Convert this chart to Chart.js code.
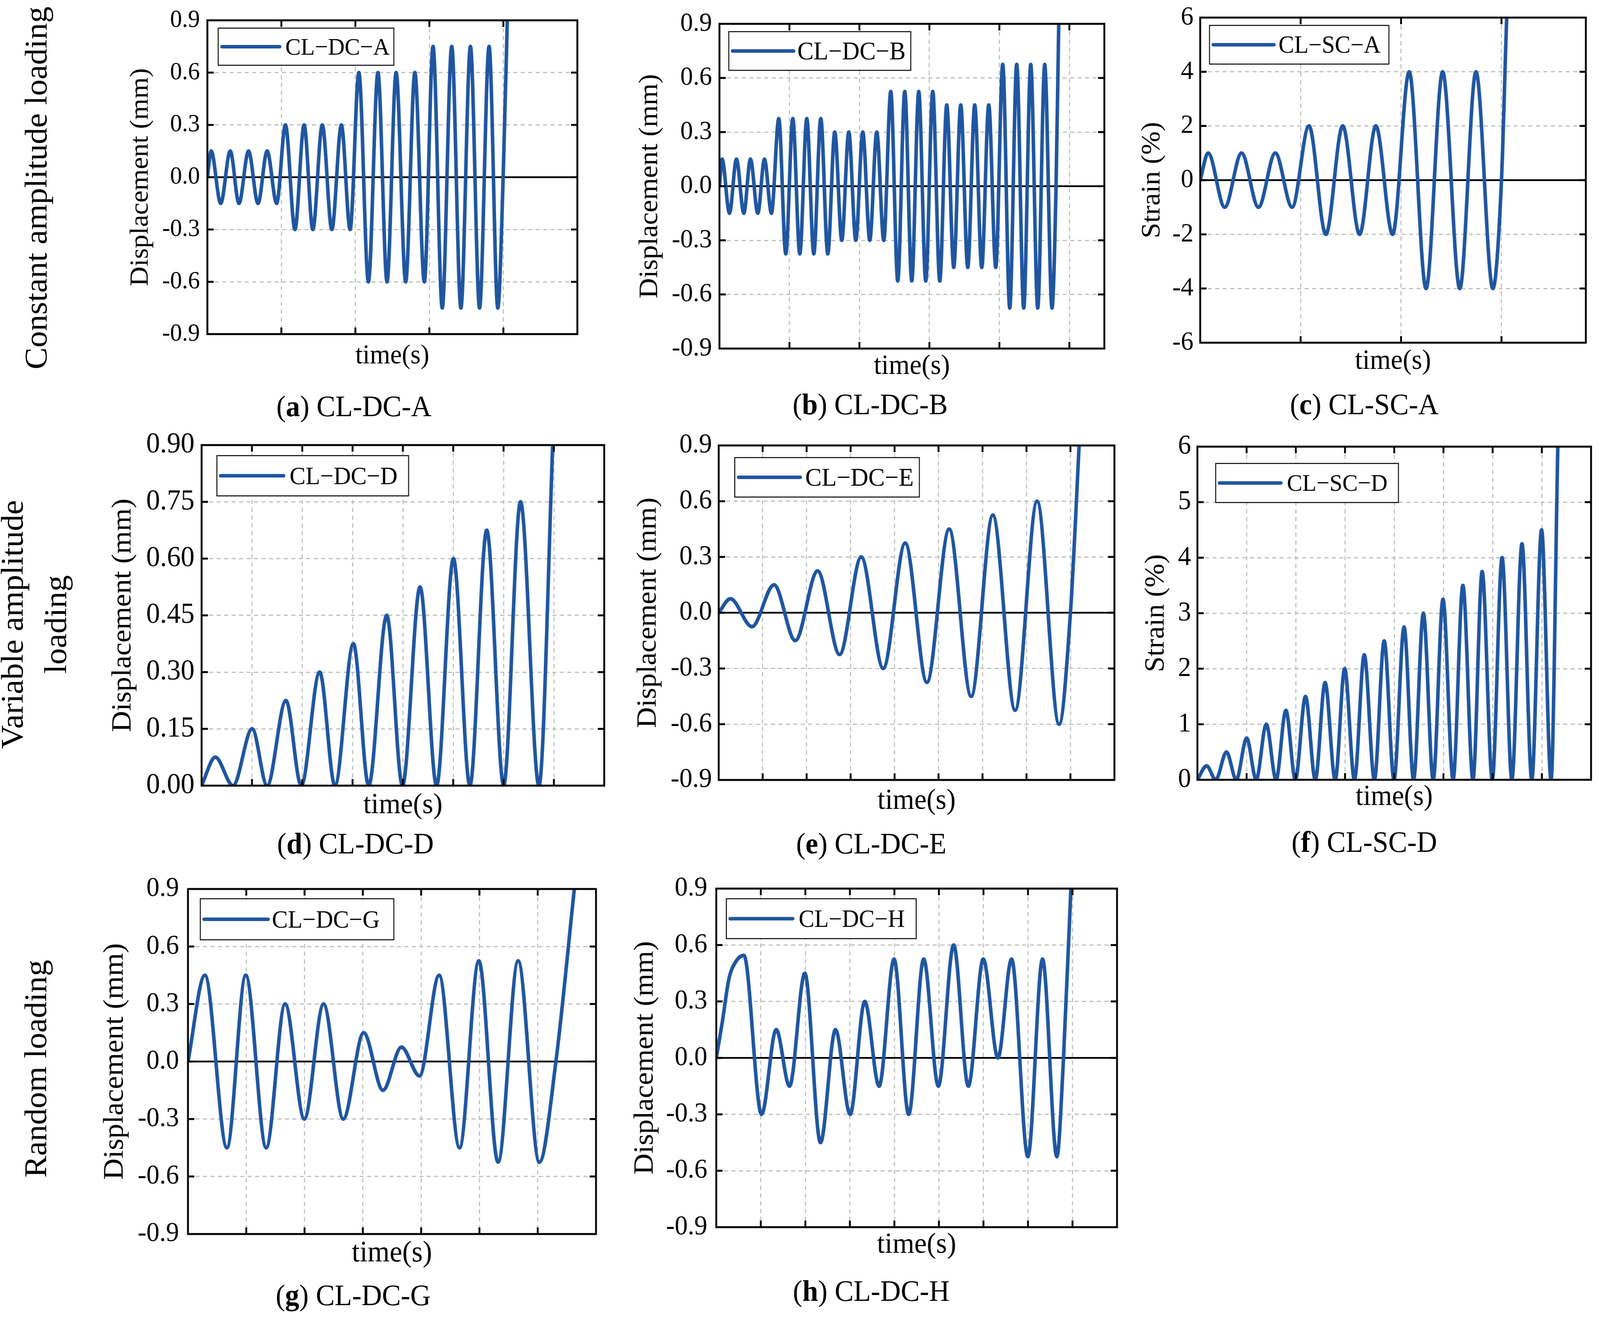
<!DOCTYPE html>
<html><head><meta charset="utf-8">
<script src="https://cdn.jsdelivr.net/npm/chart.js@4.4.1/dist/chart.umd.min.js"></script>
<style>
html,body{margin:0;padding:0;background:#fff;overflow:hidden;width:100%;height:100%;}
#wrap{position:absolute;left:0;top:0;width:4290px;height:3378px;transform-origin:0 0;font-family:'Liberation Serif','Times New Roman',serif;color:#000;background:#fff;overflow:hidden;}
canvas{position:absolute;}
.cap{position:absolute;transform:translate(-50%,-50%);font-size:76px;white-space:nowrap;line-height:1;}
.row{position:absolute;transform:translate(-50%,-50%) rotate(-90deg);font-size:84px;white-space:nowrap;text-align:center;line-height:1.15;}
</style></head><body>
<div id="wrap">
<div class="row" style="left:97px;top:481px;">Constant amplitude loading</div>
<div class="row" style="left:91px;top:1598px;line-height:116px;">Variable amplitude<br>loading</div>
<div class="row" style="left:96px;top:2735px;">Random loading</div>
<div class="cap" style="left:949px;top:1039px;">(<b>a</b>) CL-DC-A</div>
<div class="cap" style="left:2333px;top:1034px;">(<b>b</b>) CL-DC-B</div>
<div class="cap" style="left:3658px;top:1034px;">(<b>c</b>) CL-SC-A</div>
<div class="cap" style="left:953px;top:2158px;">(<b>d</b>) CL-DC-D</div>
<div class="cap" style="left:2336px;top:2158px;">(<b>e</b>) CL-DC-E</div>
<div class="cap" style="left:3658px;top:2154px;">(<b>f</b>) CL-SC-D</div>
<div class="cap" style="left:947px;top:3314px;">(<b>g</b>) CL-DC-G</div>
<div class="cap" style="left:2336px;top:3303px;">(<b>h</b>) CL-DC-H</div>
</div>
<script>
// ---------- data ----------
const seriesNames = ['CL\u2212DC\u2212A','CL\u2212DC\u2212B','CL\u2212SC\u2212A','CL\u2212DC\u2212D','CL\u2212DC\u2212E','CL\u2212SC\u2212D','CL\u2212DC\u2212G','CL\u2212DC\u2212H'];
const yTitles = ['Displacement (mm)','Displacement (mm)','Strain (%)','Displacement (mm)','Displacement (mm)','Strain (%)','Displacement (mm)','Displacement (mm)'];
const xTitle = 'time(s)';
const xSpan = [5, 5.5, 3.84, 8, 9, 8, 7, 9];

const yTicksDisp = [-0.9, -0.6, -0.3, 0, 0.3, 0.6, 0.9];
const yTicksStrainC = [-6, -4, -2, 0, 2, 4, 6];
const yTicksD = [0, 0.15, 0.30, 0.45, 0.60, 0.75, 0.90];
const yTicksF = [0, 1, 2, 3, 4, 5, 6];

const timeA = [0,0.051,0.180,0.309,0.427,0.556,0.684,0.808,0.936,1.055,1.183,1.307,1.425,1.553,1.682,1.811,1.929,2.047,2.176,2.305,2.428,2.551,2.680,2.804,2.932,3.050,3.174,3.302,3.426,3.555,3.678,3.807,3.925,3.997,4.053,4.115];
const dispA = [0,0.15,-0.15,0.15,-0.15,0.15,-0.15,0.15,-0.15,0.3,-0.3,0.3,-0.3,0.3,-0.3,0.3,-0.3,0.6,-0.6,0.6,-0.6,0.6,-0.6,0.6,-0.6,0.75,-0.75,0.75,-0.75,0.75,-0.75,0.75,-0.75,0,0.9,1.9];

const timeB = [0,0.038,0.143,0.243,0.348,0.443,0.548,0.643,0.743,0.848,0.948,1.048,1.148,1.248,1.348,1.448,1.548,1.648,1.748,1.848,1.948,2.048,2.148,2.248,2.348,2.448,2.548,2.648,2.748,2.848,2.948,3.048,3.148,3.248,3.348,3.448,3.548,3.648,3.748,3.848,3.948,4.048,4.148,4.248,4.348,4.448,4.548,4.648,4.752,4.810,4.848,4.886];
const dispB = [0,0.15,-0.15,0.15,-0.15,0.15,-0.15,0.15,-0.15,0.375,-0.375,0.375,-0.375,0.375,-0.375,0.375,-0.375,0.3,-0.3,0.3,-0.3,0.3,-0.3,0.3,-0.3,0.525,-0.525,0.525,-0.525,0.525,-0.525,0.525,-0.525,0.45,-0.45,0.45,-0.45,0.45,-0.45,0.45,-0.45,0.675,-0.675,0.675,-0.675,0.675,-0.675,0.675,-0.675,0,0.9,1.8];

const timeC = [0,0.079,0.244,0.412,0.580,0.748,0.915,1.083,1.251,1.419,1.587,1.749,1.916,2.081,2.249,2.414,2.585,2.746,2.914,3.000,3.052,3.085];
const strainC = [0,1,-1,1,-1,1,-1,2,-2,2,-2,2,-2,4,-4,4,-4,4,-4,0,6,9];

const timeD = [0,0.273,0.624,1.005,1.302,1.676,1.980,2.346,2.650,3.016,3.320,3.679,3.991,4.341,4.669,5.004,5.331,5.666,6.002,6.337,6.703,6.976,7.054];
const dispD = [0,0.075,0,0.15,0,0.225,0,0.30,0,0.375,0,0.45,0,0.525,0,0.60,0,0.675,0,0.75,0,0.9,1.2];

const timeE = [0,0.265,0.758,1.258,1.742,2.25,2.75,3.242,3.742,4.242,4.735,5.242,5.742,6.235,6.742,7.242,7.742,8.0,8.197,8.258];
const dispE = [0,0.075,-0.075,0.15,-0.15,0.225,-0.225,0.3,-0.3,0.375,-0.375,0.45,-0.45,0.525,-0.525,0.6,-0.6,0,0.9,1.2];

const timeF = [0,0.187,0.373,0.591,0.790,1.002,1.195,1.400,1.599,1.798,1.991,2.197,2.396,2.595,2.800,2.993,3.192,3.391,3.597,3.796,3.995,4.200,4.393,4.592,4.792,4.991,5.196,5.395,5.600,5.787,5.992,6.192,6.391,6.596,6.795,6.994,7.187,7.324,7.361];
const strainF = [0,0.25,0,0.5,0,0.75,0,1.0,0,1.25,0,1.5,0,1.75,0,2.0,0,2.25,0,2.5,0,2.75,0,3.0,0,3.25,0,3.5,0,3.75,0,4.0,0,4.25,0,4.5,0,6,7.5];

const timeG = [0,0.290,0.668,0.991,1.342,1.666,1.996,2.326,2.664,3.014,3.345,3.662,3.972,4.309,4.659,4.990,5.320,5.664,6.028,6.312,6.628,6.716];
const dispG = [0,0.45,-0.45,0.45,-0.45,0.3,-0.3,0.3,-0.3,0.15,-0.15,0.075,-0.075,0.45,-0.45,0.525,-0.525,0.525,-0.525,0,0.9,1.15];

const timeH = [0,0.135,0.284,0.434,0.62,1.017,1.346,1.645,1.989,2.340,2.677,3.006,3.335,3.656,3.993,4.321,4.658,4.987,5.331,5.660,5.996,6.325,6.632,6.998,7.327,7.649,7.798,7.963,8.022];
const dispH = [0,0.19,0.42,0.51,0.545,-0.3,0.15,-0.15,0.45,-0.45,0.15,-0.3,0.3,-0.15,0.525,-0.3,0.525,-0.15,0.6,-0.15,0.525,0,0.525,-0.525,0.525,-0.525,0,0.9,1.25];

// ---------- layout / style ----------
const BLUE = '#1f56a0';
const GRID = '#c0c0c0';
const FAM = "'Liberation Serif','Times New Roman',serif";
Chart.defaults.font.family = FAM;
Chart.defaults.color = '#000';

// fit the 4290x3378 design into the actual viewport
const wrap = document.getElementById('wrap');
const sx = Math.min(1, window.innerWidth / 4290);
const sy = Math.min(1, window.innerHeight / 3378);
wrap.style.transform = 'scale(' + sx + ',' + sy + ')';

const panels = [
 {t:timeA, v:dispA, yT:yTicksDisp,   dec:1, L:556,  T:52,   R:1548, B:855,  yX:378,  xY:912,  tf:64, af:70, tp:20, zero:true,  leg:[29,20,471,95,62,165,180]},
 {t:timeB, v:dispB, yT:yTicksDisp,   dec:1, L:1929, T:61,   R:2961, B:892,  yX:1743, xY:938,  tf:68, af:72, tp:20, zero:true,  leg:[25,20,488,99,65,174,184]},
 {t:timeC, v:strainC, yT:yTicksStrainC, dec:0, L:3218, T:45, R:4252, B:877, yX:3090, xY:925, tf:68, af:72, tp:18, zero:true, leg:[25,20,481,99,63,173,185]},
 {t:timeD, v:dispD, yT:yTicksD,      dec:2, L:540,  T:1139, R:1619, B:2010, yX:330,  xY:2061, tf:74, af:75, tp:19, zero:false, leg:[41,27,514,103,64,179,195]},
 {t:timeE, v:dispE, yT:yTicksDisp,   dec:1, L:1927, T:1140, R:2988, B:1996, yX:1739, xY:2051, tf:70, af:74, tp:18, zero:true,  leg:[43,31,495,101,66,176,189]},
 {t:timeF, v:strainF, yT:yTicksF,    dec:0, L:3210, T:1143, R:4265, B:1995, yX:3100, xY:2040, tf:70, af:73, tp:17, zero:false, leg:[49,43,490,100,62,175,191]},
 {t:timeG, v:dispG, yT:yTicksDisp,   dec:1, L:504,  T:2275, R:1598, B:3158, yX:309,  xY:3208, tf:70, af:76, tp:24, zero:true,  leg:[33,25,519,105,64,182,192]},
 {t:timeH, v:dispH, yT:yTicksDisp,   dec:1, L:1920, T:2274, R:2994, B:3140, yX:1730, xY:3186, tf:70, af:75, tp:24, zero:true,  leg:[27,26,509,102,63,178,194]}
];

const framePlugin = {
  id: 'frame',
  beforeDatasetsDraw(chart, args, opts) {
    if (!opts.zero) return;
    const {ctx, chartArea: a, scales: {y}} = chart;
    const py = y.getPixelForValue(0);
    ctx.save();
    ctx.strokeStyle = '#000'; ctx.lineWidth = 4.5;
    ctx.beginPath(); ctx.moveTo(a.left, py); ctx.lineTo(a.right, py); ctx.stroke();
    ctx.restore();
  },
  afterDatasetsDraw(chart, args, opts) {
    const {ctx, chartArea: a, scales: {x, y}} = chart;
    ctx.save();
    ctx.strokeStyle = '#000'; ctx.lineWidth = 5; ctx.lineCap = 'butt';
    const tl = 17, eps = 1e-6;
    ctx.beginPath();
    y.ticks.forEach(t => {
      if (t.value <= y.min + eps || t.value >= y.max - eps) return;
      const p = y.getPixelForValue(t.value);
      ctx.moveTo(a.left, p); ctx.lineTo(a.left + tl, p);
      ctx.moveTo(a.right, p); ctx.lineTo(a.right - tl, p);
    });
    x.ticks.forEach(t => {
      if (t.value <= x.min + eps || t.value >= x.max - eps) return;
      const p = x.getPixelForValue(t.value);
      ctx.moveTo(p, a.top); ctx.lineTo(p, a.top + tl);
      ctx.moveTo(p, a.bottom); ctx.lineTo(p, a.bottom - tl);
    });
    ctx.stroke();
    ctx.strokeRect(a.left, a.top, a.right - a.left, a.bottom - a.top);
    // legend box
    const [ox, oy, w, h, fs, le, tx] = opts.leg;
    const ds = chart.data.datasets[0];
    const bx = a.left + ox, by = a.top + oy, cy = by + h / 2;
    ctx.fillStyle = '#fff';
    ctx.fillRect(bx, by, w, h);
    ctx.lineWidth = 2.5; ctx.strokeStyle = '#000';
    ctx.strokeRect(bx, by, w, h);
    ctx.strokeStyle = ds.borderColor; ctx.lineWidth = 9; ctx.lineCap = 'round';
    ctx.beginPath(); ctx.moveTo(bx + 10, cy); ctx.lineTo(bx + le, cy); ctx.stroke();
    ctx.fillStyle = '#000';
    ctx.font = fs + 'px ' + FAM;
    ctx.textBaseline = 'alphabetic'; ctx.textAlign = 'left';
    ctx.fillText(ds.label, bx + tx, cy + 0.33 * fs);
    ctx.restore();
  }
};

panels.forEach((p, i) => {
  const left = p.yX - p.af / 2;
  const top = p.T - 80;
  const right = p.R + 20;
  const bottom = p.xY + p.af / 2;
  const Wy = p.L - left;
  const Hx = bottom - p.B;
  const cv = document.createElement('canvas');
  cv.width = Math.round(right - left);
  cv.height = Math.round(bottom - top);
  cv.style.left = left + 'px';
  cv.style.top = top + 'px';
  cv.style.width = cv.width + 'px';
  cv.style.height = cv.height + 'px';
  wrap.appendChild(cv);
  const yMin = p.yT[0], yMax = p.yT[p.yT.length - 1];
  new Chart(cv, {
    type: 'line',
    data: {
      datasets: [{
        label: seriesNames[i],
        data: p.t.map((tt, k) => ({x: tt, y: p.v[k]})),
        borderColor: BLUE,
        borderWidth: 9.5,
        pointRadius: 0,
        fill: false,
        cubicInterpolationMode: 'monotone',
        borderJoinStyle: 'round',
        borderCapStyle: 'round',
        clip: 0
      }]
    },
    options: {
      responsive: false,
      animation: false,
      devicePixelRatio: 1,
      layout: {padding: {top: 80, right: 20, left: 0, bottom: 0}},
      plugins: {
        legend: {display: false},
        tooltip: {enabled: false},
        frame: {zero: p.zero, leg: p.leg}
      },
      scales: {
        x: {
          type: 'linear', min: 0, max: xSpan[i],
          afterFit: s => { s.height = Hx; },
          ticks: {display: false, stepSize: 1},
          grid: {color: GRID, lineWidth: 3, drawTicks: false},
          border: {display: false, dash: [11, 9]},
          title: {display: true, text: xTitle, color: '#000', padding: 0, font: {family: FAM, size: p.af, lineHeight: 1}}
        },
        y: {
          type: 'linear', min: yMin, max: yMax,
          afterBuildTicks: s => { s.ticks = p.yT.map(v => ({value: v})); },
          afterFit: s => { s.width = Wy; },
          ticks: {color: '#000', padding: p.tp, font: {family: FAM, size: p.tf}, callback: v => Number(v).toFixed(p.dec)},
          grid: {color: GRID, lineWidth: 3, drawTicks: false},
          border: {display: false, dash: [11, 9]},
          title: {display: true, text: yTitles[i], color: '#000', padding: 0, font: {family: FAM, size: p.af, lineHeight: 1}}
        }
      }
    },
    plugins: [framePlugin]
  });
});
</script>
</body></html>
